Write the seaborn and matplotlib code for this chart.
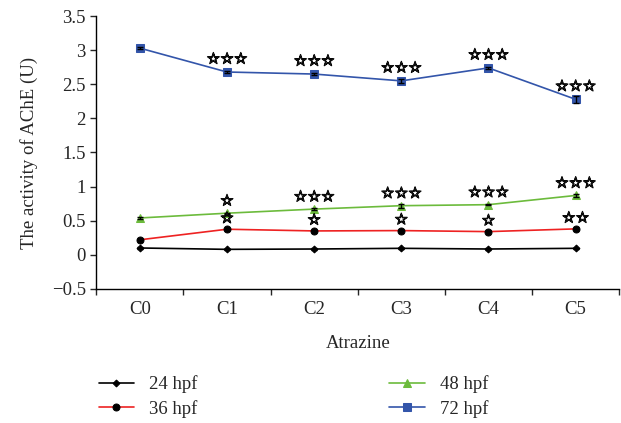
import numpy as np
import matplotlib
matplotlib.use("Agg")
import matplotlib.pyplot as plt
import matplotlib.patheffects as pe
import pandas as pd
import seaborn as sns

# data
groups = ["C0", "C1", "C2", "C3", "C4", "C5"]
series = ["24 hpf", "36 hpf", "48 hpf", "72 hpf"]
v24 = [0.10, 0.08, 0.085, 0.095, 0.085, 0.095]
v36 = [0.22, 0.375, 0.35, 0.355, 0.34, 0.38]
v48 = [0.54, 0.61, 0.67, 0.72, 0.735, 0.87]
v72 = [3.03, 2.68, 2.65, 2.55, 2.74, 2.28]
e24 = [0.01, 0.01, 0.01, 0.01, 0.01, 0.01]
e36 = [0.01, 0.01, 0.01, 0.01, 0.01, 0.01]
e48 = [0.01, 0.01, 0.01, 0.03, 0.01, 0.02]
e72 = [0.02, 0.02, 0.02, 0.03, 0.02, 0.05]
stars36 = ["", "☆", "☆", "☆", "☆", "☆☆"]
stars48 = ["", "☆", "☆☆☆", "☆☆☆", "☆☆☆", "☆☆☆"]
stars72 = ["", "☆☆☆", "☆☆☆", "☆☆☆", "☆☆☆", "☆☆☆"]

colors = ["#000000", "#ee2222", "#6cbb3c", "#3355aa"]
mcolors = ["#000000", "#000000", "#6cbb3c", "#3355aa"]
markers = ["D", "o", "^", "s"]
msizes = [3.5, 5, 6, 5.5]

df = pd.DataFrame({
    "group": groups * 4,
    "pos": list(range(len(groups))) * 4,
    "series": np.repeat(series, len(groups)),
    "value": v24 + v36 + v48 + v72,
})

sns.set_style("ticks")
plt.rcParams["font.family"] = ["Liberation Serif", "DejaVu Sans"]

fig = plt.figure(figsize=(6.21, 4.23), dpi=100)
ax = fig.add_axes([0.155, 0.317, 0.842, 0.645])

vals = [v24, v36, v48, v72]
errs = [e24, e36, e48, e72]
for name, v, e, c, mc, m, ms in zip(series, vals, errs, colors, mcolors, markers, msizes):
    sub = df[df["series"] == name]
    sns.lineplot(data=sub, x="pos", y="value", color=c, marker=m,
                 markersize=ms, markeredgecolor=mc, markerfacecolor=mc,
                 linewidth=1.2, label=name, ax=ax)
    ax.errorbar(sub["pos"], v, yerr=e, fmt="none", ecolor="black",
                elinewidth=1, capsize=2.5, capthick=1)

# significance stars
star_fx = [pe.withStroke(linewidth=0.9, foreground="black")]
for stars, v, off in [(stars72, v72, 0.08), (stars48, v48, 0.07), (stars36, v36, 0.05)]:
    for i in range(len(groups)):
        if stars[i]:
            ax.text(i, v[i] + off, stars[i], ha="center", va="bottom",
                    fontsize=11, family="DejaVu Sans", path_effects=star_fx)

ax.set_xlim(-0.5, len(groups) - 0.5)
ax.set_ylim(-0.5, 3.5)
ax.set_yticks(np.arange(-0.5, 3.51, 0.5))
ax.set_yticklabels(["\u22120.5", "0", "0.5", "1", "1.5", "2", "2.5", "3", "3.5"])
ax.set_xticks(np.arange(-0.5, len(groups), 1.0))
ax.set_xticklabels([])
ax.set_xticks(range(len(groups)), minor=True)
ax.set_xticklabels(groups, minor=True)
ax.tick_params(axis="x", which="minor", length=0, pad=9, labelsize=13.5)
ax.tick_params(axis="both", which="major", length=4, width=1, direction="out",
               labelsize=13.5)
ax.set_xlabel("Atrazine", fontsize=13.5, labelpad=12)
ax.set_ylabel("The activity of AChE (U)", fontsize=13.5, labelpad=10)
for s in ["top", "right"]:
    ax.spines[s].set_visible(False)
for s in ["left", "bottom"]:
    ax.spines[s].set_linewidth(1)
    ax.spines[s].set_color("black")

ax.legend(loc="upper left", bbox_to_anchor=(-0.01, -0.29), ncol=2,
          frameon=False, fontsize=13.5, columnspacing=10.2, handlelength=1.9,
          handletextpad=0.8, labelspacing=0.35, borderaxespad=0)

fig.savefig("out.png", dpi=100)
